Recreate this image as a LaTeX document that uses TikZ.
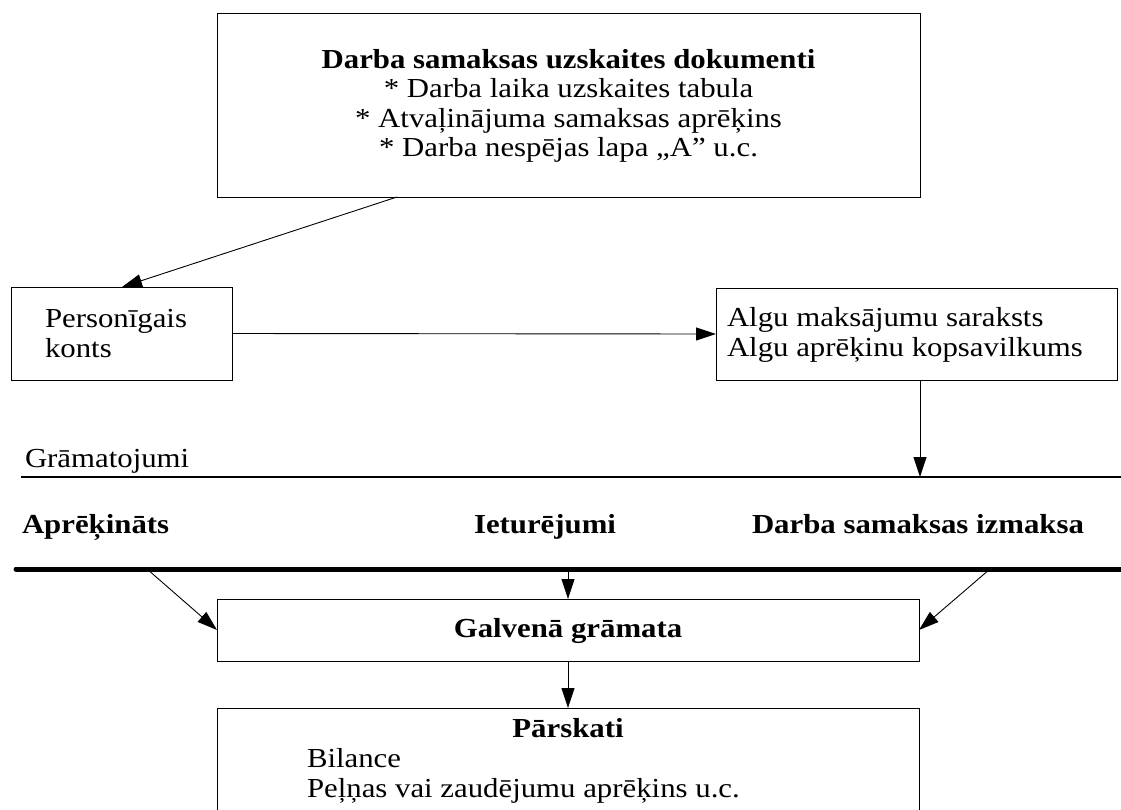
\documentclass[tikz,border=0pt]{standalone}
\usepackage{fontspec}
\setmainfont{Liberation Serif}[FakeStretch=1.12]
\usetikzlibrary{arrows.meta}
\begin{document}
\begin{tikzpicture}[x=1pt,y=-1pt,
  box/.style={draw=black, line width=1pt, inner sep=0pt, outer sep=0pt},
  txt/.style={inner sep=0pt, outer sep=0pt, font=\fontsize{27.5}{29.5}\selectfont},
  btxt/.style={txt, font=\fontsize{27.5}{29.5}\selectfont\bfseries},
  arr/.style={line width=0.9pt, -{Triangle[length=20pt,width=13pt]}},
  thin/.style={line width=1.2pt},
  thick/.style={line width=5pt, line cap=round}]
\useasboundingbox (0,0) rectangle (1121,809);
% boxes
\node[box, minimum width=703pt, minimum height=184pt] (top) at (568.5,105) {};
\node[box, minimum width=221pt, minimum height=93pt] (pers) at (121.5,333.5) {};
\node[box, minimum width=401pt, minimum height=92pt] (algu) at (916.5,334) {};
\node[box, minimum width=702pt, minimum height=62pt] (galv) at (568,630) {};
\node[box, minimum width=702pt, minimum height=122pt] (pars) at (568,769) {};
% texts
\node[btxt, anchor=base] (t1) at (568.5,68) {Darba samaksas uzskaites dokumenti};
\node[txt, anchor=base] (t2) at (568.5,97.5) {* Darba laika uzskaites tabula};
\node[txt, anchor=base] (t3) at (568.5,127) {* Atvaļinājuma samaksas aprēķins};
\node[txt, anchor=base] (t4) at (568.5,156.5) {* Darba nespējas lapa „A” u.c.};
\node[txt, anchor=base west] (p1) at (45,327) {Personīgais};
\node[txt, anchor=base west] (p2) at (45,357) {konts};
\node[txt, anchor=base west] (a1) at (727,326) {Algu maksājumu saraksts};
\node[txt, anchor=base west] (a2) at (727,356) {Algu aprēķinu kopsavilkums};
\node[txt, anchor=base west] (gr) at (25,467) {Grāmatojumi};
\node[btxt, anchor=base west] (l1) at (22,533) {Aprēķināts};
\node[btxt, anchor=base east] (l2) at (616,533) {Ieturējumi};
\node[btxt, anchor=base west] (l3) at (752,533) {Darba samaksas izmaksa};
\node[btxt, anchor=base] (gt) at (568,637) {Galvenā grāmata};
\node[btxt, anchor=base] (r1) at (568,737) {Pārskati};
\node[txt, anchor=base west] (r2) at (307,767) {Bilance};
\node[txt, anchor=base west] (r3) at (307,797) {Peļņas vai zaudējumu aprēķins u.c.};
% lines
\coordinate (gL) at (21,477);
\coordinate (gR) at (1121,477);
\draw[thin] (gL) -- (gR);
\coordinate (kL) at (16,569);
\coordinate (kR) at (1125,569);
\draw[thick] (kL) -- (kR);
\coordinate (k1) at (147,569);
\coordinate (k2) at (568,569);
\coordinate (k3) at (990,569);
% connectors
\draw[arr] ([xshift=180pt]top.south west) -- ([xshift=111pt]pers.north west);
\draw[arr] (pers.east) -- (algu.west);
\draw[arr] ([xshift=3.5pt]algu.south) -- ([xshift=3.5pt]algu.south |- gL);
\draw[arr] (k1) -- (galv.west);
\draw[arr] (k2) -- (galv.north);
\draw[arr] (k3) -- (galv.east);
\draw[arr] (galv.south) -- (pars.north);
\end{tikzpicture}
\end{document}
